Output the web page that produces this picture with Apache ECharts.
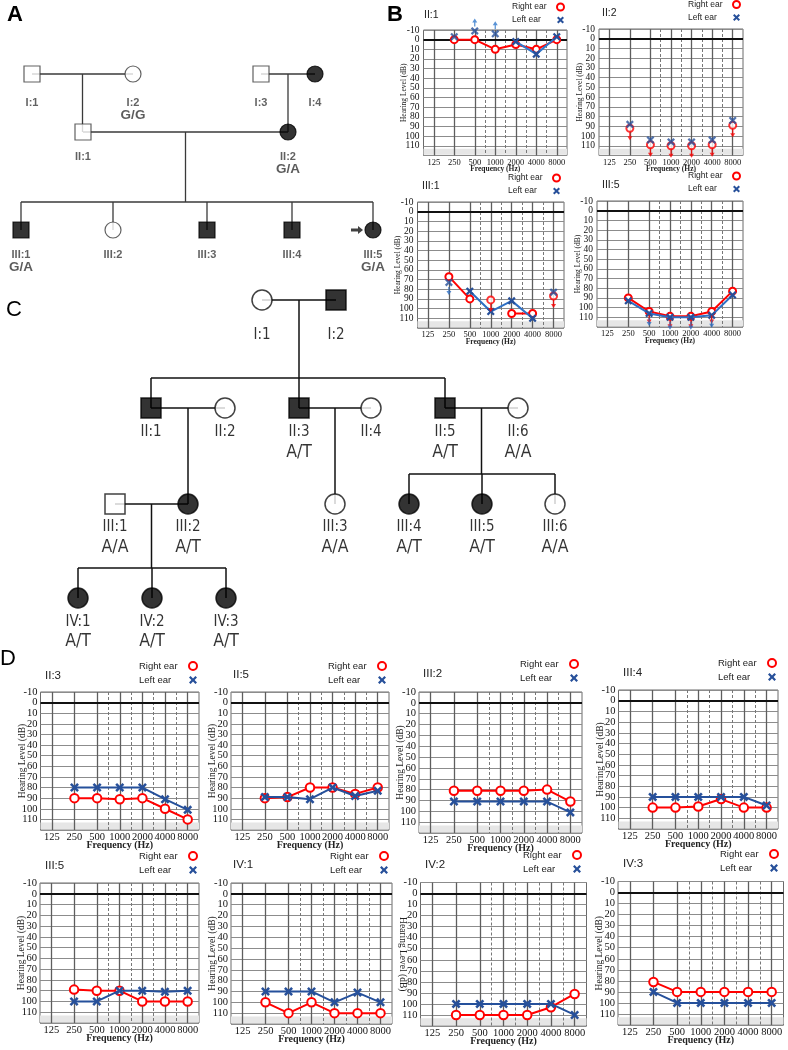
<!DOCTYPE html>
<html>
<head>
<meta charset="utf-8">
<script src="https://cdn.jsdelivr.net/npm/echarts@6/dist/echarts.min.js"></script>
<style>
html,body{margin:0;padding:0;background:#fff;}
#chart{width:788px;height:1050px;}
</style>
</head>
<body>
<div id="chart"></div>
<script>
// ================= DATA =================
const FREQS = ['125','250','500','1000','2000','4000','8000'];
const DB_TICKS = ['-10','0','10','20','30','40','50','60','70','80','90','100','110','120'];

// ---- Panel A pedigree ----
const pedA_ids  = ['I:1','I:2','I:3','I:4','II:1','II:2','III:1','III:2','III:3','III:4','III:5'];
const pedA_sex  = ['M','F','M','F','M','F','M','F','M','M','F'];
const pedA_aff  = [0,0,0,1,0,1,1,0,1,1,1];
const pedA_geno = ['','G/G','','','','G/A','G/A','','','','G/A'];
const pedA_gen  = [1,1,1,1,2,2,3,3,3,3,3];
const pedA_col  = [32,133,261,315,83,288,21,113,207,292,373];
const pedA_couples = [['I:1','I:2',['II:1']],['I:3','I:4',['II:2']],['II:1','II:2',['III:1','III:2','III:3','III:4','III:5']]];
const pedA_proband = 'III:5';

// ---- Panel C pedigree ----
const pedC_ids  = ['I:1','I:2','II:1','II:2','II:3','II:4','II:5','II:6','III:1','III:2','III:3','III:4','III:5','III:6','IV:1','IV:2','IV:3'];
const pedC_sex  = ['F','M','M','F','M','F','M','F','M','F','F','F','F','F','F','F','F'];
const pedC_aff  = [0,1,1,0,1,0,1,0,0,1,0,1,1,0,1,1,1];
const pedC_geno = ['','','','','A/T','','A/T','A/A','A/A','A/T','A/A','A/T','A/T','A/A','A/T','A/T','A/T'];
const pedC_gen  = [1,1,2,2,2,2,2,2,3,3,3,3,3,3,4,4,4];
const pedC_col  = [262,336,151,225,299,371,445,518,115,188,335,409,482,555,78,152,226];
const pedC_couples = [['I:1','I:2',['II:1','II:3','II:5']],['II:1','II:2',['III:2']],['II:3','II:4',['III:3']],['II:5','II:6',['III:4','III:5','III:6']],['III:1','III:2',['IV:1','IV:2','IV:3']]];

// ---- Panel B audiograms (dB HL at 125..8000 Hz) ----
const b_II1_right = [null, 0, 0, 10, 5, 10, 0];
const b_II1_left  = [null, -3, -9, -6, 2, 15, -3];
const b_II1_leftJoin = [0,0,0,0,1,1,1];
const b_II1_leftNR   = ['','','up','up','','',''];

const b_II2_right = [null, 92, 109, 110, 110, 109, 89];
const b_II2_left  = [null, 88, 104, 106, 106, 104, 84];
const b_II2_join  = [0,0,0,0,0,0,0];
const b_II2_rightNR = ['','down','down','down','down','down','down'];

const b_III1_right = [null, 67, 90, 91, 105, 105, 87];
const b_III1_left  = [null, 73, 82, 103, 92, 110, 83];
const b_III1_rightJoin = [0,1,1,0,1,1,0];
const b_III1_leftJoin  = [0,0,1,1,1,1,0];
const b_III1_rightNR = ['','','','down','','','down'];
const b_III1_leftNR  = ['','down','','','','',''];

const b_III5_right = [null, 90, 104, 109, 109, 104, 83];
const b_III5_left  = [null, 93, 106, 110, 110, 108, 87];
const b_III5_rightNR = ['','','down','down','down','down',''];
const b_III5_leftNR  = ['','','down','down','down','down',''];

// ---- Panel D audiograms ----
const d_II3_right  = [null, 90, 90, 91, 90, 100, 110];
const d_II3_left   = [null, 80, 80, 80, 80, 91, 101];
const d_II5_right  = [null, 90, 89, 80, 80, 86, 80];
const d_II5_left   = [null, 89, 89, 91, 80, 88, 83];
const d_III2_right = [null, 81, 81, 81, 81, 80, 91];
const d_III2_left  = [null, 91, 91, 91, 91, 91, 101];
const d_III4_right = [null, 100, 100, 99, 92, 100, 100];
const d_III4_left  = [null, 90, 90, 90, 90, 90, 98];
const d_III5_right = [null, 89, 90, 90, 100, 100, 100];
const d_III5_left  = [null, 100, 100, 90, 90, 91, 90];
const d_IV1_right  = [null, 100, 110, 100, 110, 110, 110];
const d_IV1_left   = [null, 90, 90, 90, 100, 91, 100];
const d_IV2_right  = [null, 110, 110, 110, 110, 103, 91];
const d_IV2_left   = [null, 100, 100, 100, 100, 100, 110];
const d_IV3_right  = [null, 81, 90, 90, 90, 90, 90];
const d_IV3_left   = [null, 90, 100, 100, 100, 100, 100];

// ================= STYLE / LAYOUT =================
const SERIF  = "'Liberation Serif','Times New Roman',serif";
const SANS   = "'Liberation Sans',Arial,sans-serif";
const NARROW = "'Liberation Sans Narrow','Arial Narrow','DejaVu Sans Condensed',sans-serif";
const RED = '#ff0000';
const BLUEX = '#27509a';
const XPATH = 'path://M0,2 L2,0 L5,3 L8,0 L10,2 L7,5 L10,8 L8,10 L5,7 L2,10 L0,8 L3,5 Z';
const ARROW_DOWN = 'path://M4,0 L6,0 L6,5 L9,5 L5,10 L1,5 L4,5 Z';
const ARROW_RIGHT = 'path://M0,3 L7,3 L7,0 L12,5 L7,10 L7,7 L0,7 Z';

const AUDIOS = [
  {t:'II:1', small:true, g:[423.5,30,143.5,125.5], tp:[424,9], lg:[512,1.5], right:b_II1_right, left:b_II1_left, leftJoin:b_II1_leftJoin, leftNR:b_II1_leftNR, blueLine:'#3078cc'},
  {t:'II:2', small:true, g:[599,29,144,126.5], tp:[602,7], lg:[688,-1], right:b_II2_right, left:b_II2_left, rightJoin:b_II2_join, leftJoin:b_II2_join, rightNR:b_II2_rightNR, blueLine:'#3078cc'},
  {t:'III:1', small:true, g:[417.5,202,146.5,126], tp:[422,180], lg:[508,172.5], right:b_III1_right, left:b_III1_left, rightJoin:b_III1_rightJoin, leftJoin:b_III1_leftJoin, rightNR:b_III1_rightNR, leftNR:b_III1_leftNR, blueLine:'#2e6fc4'},
  {t:'III:5', small:true, g:[597,201,146,126], tp:[602,179], lg:[688,170.5], right:b_III5_right, left:b_III5_left, rightNR:b_III5_rightNR, leftNR:b_III5_leftNR, blueLine:'#2e6fc4'},
  {t:'II:3', g:[40.5,692,158.5,138], tp:[45,669], lg:[139,659.5], right:d_II3_right, left:d_II3_left},
  {t:'II:5', g:[231,692,158,138], tp:[233,668], lg:[328,659.5], right:d_II5_right, left:d_II5_left},
  {t:'III:2', g:[419,692,163,141], tp:[423,667], lg:[520,657.5], right:d_III2_right, left:d_III2_left},
  {t:'III:4', g:[618.5,690,159.5,139], tp:[623,666], lg:[718,656.5], right:d_III4_right, left:d_III4_left},
  {t:'III:5', g:[40,883,159,140], tp:[45,859], lg:[139,849.5], right:d_III5_right, left:d_III5_left},
  {t:'IV:1', g:[231,883,161,141], tp:[233,858], lg:[330,849.5], right:d_IV1_right, left:d_IV1_left},
  {t:'IV:2', g:[420.5,882.5,166,143.5], tp:[425,858], lg:[523,848.5], right:d_IV2_right, left:d_IV2_left, flipName:true},
  {t:'IV:3', g:[618,881.5,165.5,143.5], tp:[623,857], lg:[720,847.5], right:d_IV3_right, left:d_IV3_left}
];

const option = {
  backgroundColor:'#ffffff', animation:false,
  title:[], grid:[], xAxis:[], yAxis:[], legend:[], series:[]
};

// panel letters
[['A',7,3,'bold'],['B',387,3,'bold'],['C',6,298,'normal'],['D',0,647,'normal']].forEach(([t,l,tp,w])=>{
  option.title.push({text:t, left:l, top:tp, padding:0, textStyle:{fontFamily:SANS, fontSize:22, fontWeight:w, color:'#000', lineHeight:24}});
});

// ---- pedigree grid (full canvas, hidden axes) ----
option.grid.push({left:0, top:0, width:788, height:1050, show:false});
option.xAxis.push({gridIndex:0, type:'value', min:0, max:788, show:false});
option.yAxis.push({gridIndex:0, type:'value', min:0, max:1050, inverse:true, show:false});

function addPedigree(p) {
  const pos = {};
  p.ids.forEach((id,i)=>{ pos[id] = [p.col[i], p.rowY[p.gen[i]]]; });
  const lines = [];
  p.couples.forEach(([a,b,kids])=>{
    const A = pos[a], B = pos[b];
    const y = (A[1]+B[1])/2, mx = (A[0]+B[0])/2;
    lines.push({coords:[[A[0],y],[B[0],y]]});
    if (kids.length === 1) {
      lines.push({coords:[[mx,y],[mx,pos[kids[0]][1]]]});
    } else {
      const sy = pos[kids[0]][1] - p.sibGap;
      const xs = kids.map(k=>pos[k][0]);
      lines.push({coords:[[mx,y],[mx,sy]]});
      lines.push({coords:[[Math.min(...xs),sy],[Math.max(...xs),sy]]});
      kids.forEach(k=>lines.push({coords:[[pos[k][0],sy],[pos[k][0],pos[k][1]]]}));
    }
  });
  option.series.push({type:'lines', coordinateSystem:'cartesian2d', xAxisIndex:0, yAxisIndex:0, polyline:true, silent:true, z:2,
    lineStyle:{color:p.lineColor, width:p.lineWidth, opacity:1}, data:lines});
  option.series.push({type:'scatter', xAxisIndex:0, yAxisIndex:0, silent:true, z:4, symbolSize:p.symSize,
    data: p.ids.map((id,i)=>({
      value: pos[id],
      symbol: p.sex[i]==='M' ? 'rect' : 'circle',
      itemStyle:{color: p.aff[i] ? '#000' : '#fff', borderColor: p.aff[i] ? '#000' : p.lineColor, borderWidth: p.borderW},
      label:{show:true, position:'bottom', distance: p.labelDist[p.gen[i]],
        formatter: p.geno[i] ? ('{id|'+id+'}\n{g|'+p.geno[i]+'}') : ('{id|'+id+'}'),
        rich: p.rich}
    }))
  });
}

addPedigree({ids:pedA_ids, sex:pedA_sex, aff:pedA_aff, geno:pedA_geno, gen:pedA_gen, col:pedA_col, couples:pedA_couples,
  rowY:{1:74, 2:132, 3:230}, sibGap:28, lineColor:'#3a3a3a', lineWidth:1.3, symSize:16, borderW:1.2,
  labelDist:{1:13.5, 2:9.5, 3:9.5},
  rich:{id:{fontFamily:SANS, fontWeight:'bold', fontSize:11, color:'#3a3a3a', lineHeight:13, align:'center'},
        g:{fontFamily:SANS, fontWeight:'bold', fontSize:13.5, color:'#333', lineHeight:13, align:'center'}}});

// proband arrow
(function(){
  const i = pedA_ids.indexOf(pedA_proband);
  option.series.push({type:'scatter', xAxisIndex:0, yAxisIndex:0, silent:true, z:5, symbol:ARROW_RIGHT, symbolSize:[12,8], symbolOffset:[-16,0],
    itemStyle:{color:'#111'}, data:[[pedA_col[i], 230]]});
})();

addPedigree({ids:pedC_ids, sex:pedC_sex, aff:pedC_aff, geno:pedC_geno, gen:pedC_gen, col:pedC_col, couples:pedC_couples,
  rowY:{1:300, 2:408, 3:504, 4:598}, sibGap:30, lineColor:'#111', lineWidth:1.5, symSize:20, borderW:1.5,
  labelDist:{1:15.5, 2:5, 3:4, 4:4.5},
  rich:{id:{fontFamily:NARROW, fontSize:15, color:'#000', lineHeight:17, align:'center'},
        g:{fontFamily:NARROW, fontSize:17.5, color:'#000', lineHeight:23, align:'center'}}});

// ---- audiograms ----
function addAudio(c) {
  const sm = !!c.small;
  const gi = option.grid.length;
  option.grid.push({left:c.g[0], top:c.g[1], width:c.g[2], height:c.g[3], show:true, borderColor:'#6a6a6a', borderWidth:1, backgroundColor:'transparent'});
  const cx = option.xAxis.length;
  option.xAxis.push({gridIndex:gi, type:'category', data:FREQS, boundaryGap:true,
    axisLine:{show:false}, axisTick:{show:false}, splitLine:{show:false},
    axisLabel:{interval:0, fontFamily:SERIF, fontSize: sm?8.5:10.5, color:'#111', margin: sm?2.5:1.5},
    name:'Frequency (Hz)', nameLocation:'middle', nameGap:10, nameMoveOverlap:false,
    nameTextStyle:{fontFamily:SERIF, fontSize: sm?7.5:10, color:'#222', fontWeight:'bold'}});
  const hx = option.xAxis.length;
  option.xAxis.push({gridIndex:gi, type:'value', min:-0.5, max:6.5, show:false});
  // label / gridline axis (dB ticks as categories so every tick label is shown)
  const yl = option.yAxis.length;
  option.yAxis.push({gridIndex:gi, type:'category', data:DB_TICKS, boundaryGap:false, inverse:true,
    axisLine:{show:false}, axisTick:{show:false},
    axisLabel:{interval:0, fontFamily:SERIF, fontSize: sm?9.5:10.5, color:'#111', margin: sm?4:3, formatter: v => (v==='120' ? '' : v)},
    splitLine:{show:true, interval:0, lineStyle:{color:'#8c8c8c', width:1}},
    name:'Hearing Level (dB)', nameLocation:'middle', nameRotate: c.flipName ? -90 : 90, nameGap: sm?15:13.5, nameMoveOverlap:false,
    nameTextStyle:{fontFamily:SERIF, fontSize: sm?7.5:9.5, color:'#222'}});
  // value axis for the data (same extent as the tick categories)
  const yi = option.yAxis.length;
  option.yAxis.push({gridIndex:gi, type:'value', inverse:true, min:-10, max:120, interval:10, show:false});

  // shaded band + grid structure lines
  option.series.push({type:'line', xAxisIndex:hx, yAxisIndex:yi, data:[], silent:true, z:1,
    markArea:{silent:true, itemStyle:{color:'#e6e6e6'}, data:[[{yAxis:113},{yAxis:119.3}]]}});
  const ml = [];
  for (let i=0;i<FREQS.length;i++) ml.push({xAxis:i, lineStyle:{color:'#5e5e5e', width:1.3, type:'solid'}});
  [2.5,3.5,4.5,5.5].forEach(v=>ml.push({xAxis:v, lineStyle:{color:'#777', width:1, type:[3,2]}}));
  ml.push({yAxis:0, lineStyle:{color:'#111', width:2, type:'solid'}});
  option.series.push({type:'line', xAxisIndex:hx, yAxisIndex:yi, data:[], silent:true, z:3,
    markLine:{silent:true, symbol:['none','none'], label:{show:false}, data:ml}});

  const ones = FREQS.map(()=>1), blank = FREQS.map(()=>'');
  const ears = [
    {name:'Right ear', vals:c.right, join:c.rightJoin||ones, nr:c.rightNR||blank, sym:'emptyCircle', size: sm?7:8.5, color:RED, line:RED, z:5, off: sm?8:9},
    {name:'Left ear',  vals:c.left,  join:c.leftJoin||ones,  nr:c.leftNR||blank,  sym:XPATH, size: sm?8:9, color:BLUEX, line:c.blueLine||'#25509b', z:6, off: sm?8.5:9.5}
  ];
  ears.forEach(e=>{
    const isEmpty = e.sym === 'emptyCircle';
    option.series.push({name:e.name, type:'line', xAxisIndex:cx, yAxisIndex:yi, silent:true, z:e.z,
      data: e.vals.map((v,i)=> e.join[i] ? v : null), connectNulls:false,
      symbol:e.sym, symbolSize:e.size, showSymbol:true,
      itemStyle:{color:e.color, borderWidth: isEmpty?2:0},
      lineStyle:{color:e.line, width:2}});
    option.series.push({name:e.name, type:'scatter', xAxisIndex:cx, yAxisIndex:yi, silent:true, z:e.z,
      data: e.vals.map((v,i)=> (!e.join[i] && v!==null) ? v : '-'),
      symbol:e.sym, symbolSize:e.size, itemStyle:{color:e.color, borderWidth: isEmpty?2:0}});
    if (e.nr.some(x=>x)) {
      option.series.push({type:'scatter', xAxisIndex:cx, yAxisIndex:yi, silent:true, z:e.z+2,
        symbol:ARROW_DOWN, symbolSize: sm?[5,8]:[6,9], itemStyle:{color: e.name==='Right ear' ? RED : e.line},
        data: e.vals.map((v,i)=> e.nr[i] ? {value:v, symbolRotate: e.nr[i]==='up'?180:0, symbolOffset:[0, e.nr[i]==='up' ? -e.off : e.off]} : '-')});
    }
  });

  option.title.push({text:c.t, left:c.tp[0], top:c.tp[1], padding:0,
    textStyle:{fontFamily:SANS, fontSize: sm?10.5:11.5, fontWeight:'normal', color:'#222', lineHeight: sm?12:14}});

  const fs = sm?8.5:9.5, lh = sm?11:13;
  option.legend.push({left:c.lg[0], top:c.lg[1], orient:'vertical', align:'right', padding:0, selectedMode:false,
    itemGap: sm?2:1, itemWidth: sm?7:8, itemHeight: sm?7:8,
    formatter: n => '{t|' + n + '}',
    textStyle:{fontFamily:SANS, fontSize:fs, color:'#222', lineHeight:lh,
      rich:{t:{width: sm?40:45, align:'left', fontFamily:SANS, fontSize:fs, color:'#222', lineHeight:lh}}},
    data:[
      {name:'Right ear', icon:'circle', itemStyle:{color:'#fff', borderColor:RED, borderWidth:2}},
      {name:'Left ear', icon:XPATH, itemStyle:{color:BLUEX, borderWidth:0}}
    ]});
}
AUDIOS.forEach(addAudio);

const chart = echarts.init(document.getElementById('chart'), null, {renderer:'canvas', width:788, height:1050});
chart.setOption(option);
</script>
</body>
</html>
